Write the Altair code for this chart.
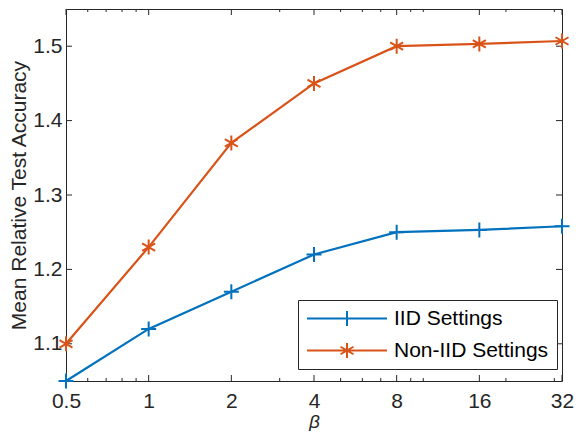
import altair as alt
import pandas as pd

beta = [0.5, 1, 2, 4, 8, 16, 32]
iid = [1.05, 1.12, 1.17, 1.22, 1.25, 1.253, 1.258]
noniid = [1.10, 1.23, 1.37, 1.45, 1.50, 1.503, 1.507]
series = ["IID Settings", "Non-IID Settings"]
colors = ["#0072BD", "#D95319"]
x_major = [0.5, 1, 2, 4, 8, 16, 32]
x_minor = [0.6, 0.7, 0.8, 0.9, 3, 5, 6, 7, 9, 10, 20, 30]
y_major = [1.1, 1.2, 1.3, 1.4, 1.5]

rows = []
for b, v in zip(beta, iid):
    rows.append({"beta": b, "value": v, "series": series[0]})
for b, v in zip(beta, noniid):
    rows.append({"beta": b, "value": v, "series": series[1]})
df = pd.DataFrame(rows)

W, H = 496, 372
PL, PT = 58, 1
FONT = "Liberation Sans"
TXT = "#262626"

plus = "M-1,0L1,0M0,-1L0,1"
star = "M0,-1L0,1M-0.866,-0.5L0.866,0.5M-0.866,0.5L0.866,-0.5"
k = 0.1875
leg_plus = f"M-1,0L1,0M0,-{k}L0,{k}"
leg_star = (f"M-1,0L1,0M0,-{k}L0,{k}M-{0.866*k},-{0.5*k}L{0.866*k},{0.5*k}"
            f"M-{0.866*k},{0.5*k}L{0.866*k},-{0.5*k}")

xscale = alt.Scale(type="log", base=2, domain=[0.5, 32], nice=False)
yscale = alt.Scale(domain=[1.05, 1.55], nice=False, zero=False)
cscale = alt.Scale(domain=series, range=colors)

x_enc = alt.X("beta:Q", scale=xscale,
              axis=alt.Axis(values=x_major, format="~g", title="β",
                            titleFontStyle="italic", titleFontWeight="normal",
                            titleFontSize=19, titlePadding=1, labelPadding=9,
                            labelFlush=False, labelOverlap=False))
y_enc = alt.Y("value:Q", scale=yscale,
              axis=alt.Axis(values=y_major, format=".1f",
                            title="Mean Relative Test Accuracy",
                            titleFontWeight="normal", titlePadding=3,
                            labelPadding=4, labelFlush=False, labelOverlap=False))

line = alt.Chart(df).mark_line(strokeWidth=2.2).encode(
    x=x_enc, y=y_enc,
    color=alt.Color("series:N", scale=cscale, legend=None),
    detail="series:N",
)

pts = alt.Chart(df).mark_point(filled=False, strokeWidth=2, size=225, opacity=1).encode(
    x="beta:Q", y="value:Q",
    color=alt.Color("series:N", scale=cscale, legend=None),
    shape=alt.Shape("series:N", scale=alt.Scale(domain=series, range=[plus, star]), legend=None),
)

def make_legend():
    return alt.Legend(title=None, orient="none", legendX=298 - 8 - PL, legendY=300 - 8 - PT,
                      symbolSize=6400, symbolStrokeWidth=2, symbolOpacity=1,
                      clipHeight=21, rowPadding=10, padding=8, labelOffset=6,
                      labelFontSize=21, labelFont=FONT, labelColor="#000000",
                      strokeColor=TXT, fillColor="#ffffff", cornerRadius=0,
                      labelLimit=400)

leg = alt.Chart(df).mark_point(filled=False, strokeWidth=2, size=10, opacity=0).encode(
    x="beta:Q", y="value:Q",
    color=alt.Color("series:N", scale=cscale, legend=make_legend()),
    shape=alt.Shape("series:N", scale=alt.Scale(domain=series, range=[leg_plus, leg_star]),
                    legend=make_legend()),
)

tx_major = pd.DataFrame({"beta": x_major})
tx_minor = pd.DataFrame({"beta": x_minor})
ty_major = pd.DataFrame({"value": y_major})

def xt(data, y0, y1):
    return alt.Chart(data).mark_rule(color=TXT, strokeWidth=1).encode(
        x=alt.X("beta:Q"), y=alt.value(y0), y2=alt.value(y1))

def yt(x0, x1):
    return alt.Chart(ty_major).mark_rule(color=TXT, strokeWidth=1).encode(
        y=alt.Y("value:Q"), x=alt.value(x0), x2=alt.value(x1))

ticks = [xt(tx_major, H, H - 6), xt(tx_major, 0, 6),
         xt(tx_minor, H, H - 3), xt(tx_minor, 0, 3),
         yt(0, 6), yt(W, W - 6)]

chart = alt.layer(line, *ticks, pts, leg).resolve_scale(
    color="independent", shape="independent"
).properties(
    width=W, height=H,
    background="white",
    autosize=alt.AutoSizeParams(type="none"),
    padding={"left": PL, "top": PT, "right": 566 - PL - W, "bottom": 423 - PT - H},
).configure_view(
    stroke=TXT, strokeWidth=1
).configure_axis(
    grid=False, domain=False, ticks=False,
    labelFont=FONT, labelFontSize=21, labelColor=TXT,
    titleFont=FONT, titleFontSize=21, titleColor=TXT,
)

chart.save("out.html", embed_options={"renderer": "svg", "actions": False})
